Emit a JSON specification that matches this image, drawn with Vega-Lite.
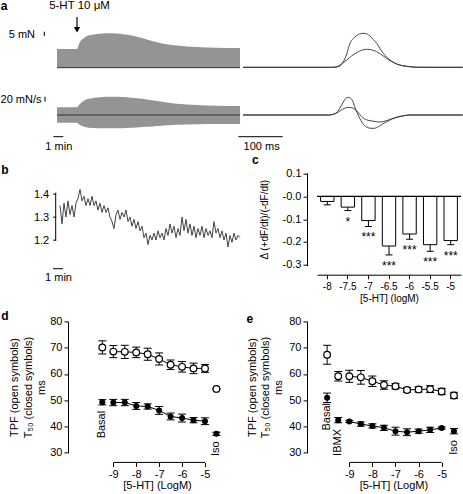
{
  "$schema": "https://vega.github.io/schema/vega-lite/v6.json",
  "padding": 0,
  "autosize": {"type": "pad"},
  "background": "white",
  "config": {
    "font": "Liberation Sans",
    "view": {"stroke": null},
    "axis": {"grid": false, "domainColor": "black", "tickColor": "black", "labelColor": "black", "titleColor": "black", "labelFontSize": 11, "titleFontSize": 11, "titleFontWeight": "normal", "tickSize": 4, "labelPadding": 2, "domainWidth": 1, "tickWidth": 1, "labelFont": "Liberation Sans", "titleFont": "Liberation Sans", "labelOverlap": false},
    "text": {"color": "black", "fontSize": 11}
  },
  "columns": 2,
  "align": "none",
  "bounds": "flush",
  "spacing": {"row": 55.7, "column": 0},
  "datasets": {
    "aenv": [
      {"trace": "F", "t": 0, "top": 101, "bot": 82.3},
      {"trace": "F", "t": 2.0, "top": 101, "bot": 82.3},
      {"trace": "F", "t": 2.2, "top": 106, "bot": 82.3},
      {"trace": "F", "t": 2.4, "top": 109.5, "bot": 82.3},
      {"trace": "F", "t": 2.7, "top": 112, "bot": 82.3},
      {"trace": "F", "t": 3.0, "top": 114, "bot": 82.3},
      {"trace": "F", "t": 3.5, "top": 115.3, "bot": 82.3},
      {"trace": "F", "t": 4.5, "top": 116.5, "bot": 82.3},
      {"trace": "F", "t": 5.5, "top": 116.7, "bot": 82.3},
      {"trace": "F", "t": 6.5, "top": 116, "bot": 82.3},
      {"trace": "F", "t": 7.5, "top": 114.5, "bot": 82.3},
      {"trace": "F", "t": 8.5, "top": 112, "bot": 82.3},
      {"trace": "F", "t": 9.5, "top": 109, "bot": 82.3},
      {"trace": "F", "t": 10.5, "top": 106.5, "bot": 82.3},
      {"trace": "F", "t": 11.5, "top": 105, "bot": 82.3},
      {"trace": "F", "t": 13, "top": 103.5, "bot": 82.3},
      {"trace": "F", "t": 15, "top": 102.5, "bot": 82.3},
      {"trace": "F", "t": 17, "top": 102, "bot": 82.3},
      {"trace": "F", "t": 18.3, "top": 102, "bot": 82.3},
      {"trace": "D", "t": 0, "top": 42.8, "bot": 27.3},
      {"trace": "D", "t": 2.0, "top": 42.8, "bot": 27.3},
      {"trace": "D", "t": 2.2, "top": 45, "bot": 25.5},
      {"trace": "D", "t": 2.5, "top": 48, "bot": 24},
      {"trace": "D", "t": 2.8, "top": 50, "bot": 23},
      {"trace": "D", "t": 3.2, "top": 51.3, "bot": 22.3},
      {"trace": "D", "t": 4, "top": 52.5, "bot": 21.8},
      {"trace": "D", "t": 5, "top": 53.3, "bot": 21.7},
      {"trace": "D", "t": 6, "top": 53.3, "bot": 21.7},
      {"trace": "D", "t": 7, "top": 52.8, "bot": 22},
      {"trace": "D", "t": 8, "top": 51.8, "bot": 22.5},
      {"trace": "D", "t": 9, "top": 50.5, "bot": 23.2},
      {"trace": "D", "t": 10, "top": 49, "bot": 24},
      {"trace": "D", "t": 11, "top": 47.5, "bot": 24.8},
      {"trace": "D", "t": 12, "top": 46.3, "bot": 25.3},
      {"trace": "D", "t": 14, "top": 45, "bot": 25.8},
      {"trace": "D", "t": 16, "top": 44.3, "bot": 26},
      {"trace": "D", "t": 18.3, "top": 44, "bot": 26}
    ],
    "atr": [
      {"s": "Fh", "t": 0, "v": 82.7}, {"s": "Fh", "t": 200, "v": 82.7}, {"s": "Fh", "t": 207.7, "v": 82.8}, {"s": "Fh", "t": 219, "v": 84}, {"s": "Fh", "t": 226.4, "v": 88.3}, {"s": "Fh", "t": 234, "v": 96}, {"s": "Fh", "t": 241.5, "v": 106.7}, {"s": "Fh", "t": 249, "v": 111.5}, {"s": "Fh", "t": 256.7, "v": 114.5}, {"s": "Fh", "t": 264, "v": 116.2}, {"s": "Fh", "t": 271.6, "v": 116.7}, {"s": "Fh", "t": 279, "v": 116.2}, {"s": "Fh", "t": 286.7, "v": 114}, {"s": "Fh", "t": 294, "v": 110.5}, {"s": "Fh", "t": 301.8, "v": 106.7}, {"s": "Fh", "t": 309, "v": 101.5}, {"s": "Fh", "t": 316.7, "v": 96.7}, {"s": "Fh", "t": 324, "v": 93}, {"s": "Fh", "t": 331.8, "v": 90}, {"s": "Fh", "t": 339, "v": 87.8}, {"s": "Fh", "t": 347, "v": 86}, {"s": "Fh", "t": 358, "v": 84.5}, {"s": "Fh", "t": 369.5, "v": 83.7}, {"s": "Fh", "t": 381, "v": 83.1}, {"s": "Fh", "t": 392, "v": 82.8}, {"s": "Fh", "t": 420, "v": 82.7}, {"s": "Fh", "t": 496, "v": 82.7},
      {"s": "Fl", "t": 0, "v": 82.7}, {"s": "Fl", "t": 200, "v": 82.7}, {"s": "Fl", "t": 207.7, "v": 82.8}, {"s": "Fl", "t": 219, "v": 85}, {"s": "Fl", "t": 226.4, "v": 87.5}, {"s": "Fl", "t": 234, "v": 90}, {"s": "Fl", "t": 245, "v": 94}, {"s": "Fl", "t": 256.7, "v": 97.3}, {"s": "Fl", "t": 268, "v": 99.8}, {"s": "Fl", "t": 279.2, "v": 100.7}, {"s": "Fl", "t": 290, "v": 100.2}, {"s": "Fl", "t": 301.8, "v": 98.3}, {"s": "Fl", "t": 316.7, "v": 94}, {"s": "Fl", "t": 331.8, "v": 89.3}, {"s": "Fl", "t": 347, "v": 86}, {"s": "Fl", "t": 358, "v": 84.5}, {"s": "Fl", "t": 369.5, "v": 83.7}, {"s": "Fl", "t": 381, "v": 83.1}, {"s": "Fl", "t": 392, "v": 82.8}, {"s": "Fl", "t": 420, "v": 82.7}, {"s": "Fl", "t": 496, "v": 82.7},
      {"s": "Dh", "t": 0, "v": 35}, {"s": "Dh", "t": 195, "v": 35}, {"s": "Dh", "t": 200, "v": 35.3}, {"s": "Dh", "t": 211.5, "v": 37.5}, {"s": "Dh", "t": 220, "v": 43}, {"s": "Dh", "t": 226.4, "v": 48}, {"s": "Dh", "t": 232, "v": 51.5}, {"s": "Dh", "t": 237.8, "v": 52.7}, {"s": "Dh", "t": 243, "v": 51.8}, {"s": "Dh", "t": 249, "v": 47.5}, {"s": "Dh", "t": 254, "v": 41}, {"s": "Dh", "t": 260, "v": 35}, {"s": "Dh", "t": 266, "v": 29.5}, {"s": "Dh", "t": 272, "v": 25.5}, {"s": "Dh", "t": 280, "v": 22.8}, {"s": "Dh", "t": 288, "v": 21.7}, {"s": "Dh", "t": 296, "v": 21.7}, {"s": "Dh", "t": 305.5, "v": 23.3}, {"s": "Dh", "t": 315, "v": 26}, {"s": "Dh", "t": 324.4, "v": 28.3}, {"s": "Dh", "t": 335, "v": 30.7}, {"s": "Dh", "t": 347, "v": 32.7}, {"s": "Dh", "t": 362, "v": 34.2}, {"s": "Dh", "t": 377, "v": 35}, {"s": "Dh", "t": 496, "v": 35},
      {"s": "Dl", "t": 0, "v": 35}, {"s": "Dl", "t": 195, "v": 35}, {"s": "Dl", "t": 200, "v": 35.3}, {"s": "Dl", "t": 211.5, "v": 37}, {"s": "Dl", "t": 220, "v": 39.5}, {"s": "Dl", "t": 228, "v": 41.5}, {"s": "Dl", "t": 237.8, "v": 42.7}, {"s": "Dl", "t": 246, "v": 42.2}, {"s": "Dl", "t": 252.8, "v": 40.7}, {"s": "Dl", "t": 260, "v": 37.5}, {"s": "Dl", "t": 268, "v": 33.3}, {"s": "Dl", "t": 277, "v": 30.5}, {"s": "Dl", "t": 286.7, "v": 29.3}, {"s": "Dl", "t": 298, "v": 28.5}, {"s": "Dl", "t": 309.3, "v": 28}, {"s": "Dl", "t": 318, "v": 28.6}, {"s": "Dl", "t": 328, "v": 30}, {"s": "Dl", "t": 338, "v": 31.5}, {"s": "Dl", "t": 347, "v": 32.7}, {"s": "Dl", "t": 362, "v": 34.2}, {"s": "Dl", "t": 377, "v": 35}, {"s": "Dl", "t": 496, "v": 35}
    ],
    "btr": [
      {"t": 0.0, "v": 1.35}, {"t": 0.2, "v": 1.27}, {"t": 0.4, "v": 1.36}, {"t": 0.6, "v": 1.30}, {"t": 0.8, "v": 1.37}, {"t": 1.0, "v": 1.31}, {"t": 1.2, "v": 1.35}, {"t": 1.4, "v": 1.30}, {"t": 1.6, "v": 1.36}, {"t": 1.8, "v": 1.38},
      {"t": 2.0, "v": 1.42}, {"t": 2.2, "v": 1.37}, {"t": 2.4, "v": 1.39}, {"t": 2.6, "v": 1.35}, {"t": 2.8, "v": 1.38}, {"t": 3.0, "v": 1.35}, {"t": 3.2, "v": 1.39}, {"t": 3.4, "v": 1.35}, {"t": 3.6, "v": 1.37}, {"t": 3.8, "v": 1.33},
      {"t": 4.0, "v": 1.36}, {"t": 4.2, "v": 1.32}, {"t": 4.4, "v": 1.35}, {"t": 4.6, "v": 1.32}, {"t": 4.8, "v": 1.34}, {"t": 5.0, "v": 1.30}, {"t": 5.2, "v": 1.28}, {"t": 5.4, "v": 1.25}, {"t": 5.6, "v": 1.31}, {"t": 5.8, "v": 1.33},
      {"t": 6.0, "v": 1.29}, {"t": 6.2, "v": 1.32}, {"t": 6.4, "v": 1.30}, {"t": 6.6, "v": 1.33}, {"t": 6.8, "v": 1.28}, {"t": 7.0, "v": 1.30}, {"t": 7.2, "v": 1.26}, {"t": 7.4, "v": 1.29}, {"t": 7.6, "v": 1.25}, {"t": 7.8, "v": 1.28},
      {"t": 8.0, "v": 1.24}, {"t": 8.2, "v": 1.26}, {"t": 8.4, "v": 1.21}, {"t": 8.6, "v": 1.23}, {"t": 8.8, "v": 1.18}, {"t": 9.0, "v": 1.22}, {"t": 9.2, "v": 1.20}, {"t": 9.4, "v": 1.23}, {"t": 9.6, "v": 1.20}, {"t": 9.8, "v": 1.24},
      {"t": 10.0, "v": 1.21}, {"t": 10.2, "v": 1.23}, {"t": 10.4, "v": 1.20}, {"t": 10.6, "v": 1.25}, {"t": 10.8, "v": 1.22}, {"t": 11.0, "v": 1.27}, {"t": 11.2, "v": 1.23}, {"t": 11.4, "v": 1.26}, {"t": 11.6, "v": 1.21}, {"t": 11.8, "v": 1.25},
      {"t": 12.0, "v": 1.22}, {"t": 12.2, "v": 1.30}, {"t": 12.4, "v": 1.24}, {"t": 12.6, "v": 1.29}, {"t": 12.8, "v": 1.23}, {"t": 13.0, "v": 1.27}, {"t": 13.2, "v": 1.22}, {"t": 13.4, "v": 1.26}, {"t": 13.6, "v": 1.21}, {"t": 13.8, "v": 1.25},
      {"t": 14.0, "v": 1.22}, {"t": 14.2, "v": 1.26}, {"t": 14.4, "v": 1.21}, {"t": 14.6, "v": 1.25}, {"t": 14.8, "v": 1.22}, {"t": 15.0, "v": 1.24}, {"t": 15.2, "v": 1.21}, {"t": 15.4, "v": 1.28}, {"t": 15.6, "v": 1.23}, {"t": 15.8, "v": 1.25},
      {"t": 16.0, "v": 1.21}, {"t": 16.2, "v": 1.24}, {"t": 16.4, "v": 1.20}, {"t": 16.6, "v": 1.23}, {"t": 16.8, "v": 1.17}, {"t": 17.0, "v": 1.22}, {"t": 17.2, "v": 1.19}, {"t": 17.4, "v": 1.23}, {"t": 17.6, "v": 1.20}, {"t": 17.8, "v": 1.22}, {"t": 18.0, "v": 1.21}
    ],
    "cbar": [
      {"conc": "-8", "value": -0.022, "lo": -0.037, "sig": ""},
      {"conc": "-7.5", "value": -0.047, "lo": -0.062, "sig": "*"},
      {"conc": "-7", "value": -0.106, "lo": -0.132, "sig": "***"},
      {"conc": "-6.5", "value": -0.218, "lo": -0.257, "sig": "***"},
      {"conc": "-6", "value": -0.165, "lo": -0.188, "sig": "***"},
      {"conc": "-5.5", "value": -0.212, "lo": -0.241, "sig": "***"},
      {"conc": "-5", "value": -0.194, "lo": -0.212, "sig": "***"}
    ],
    "dpts": [
      {"series": "open", "cond": "Basal", "x": -9.48, "mean": 70.1, "lo": 67.6, "hi": 72.6},
      {"series": "open", "cond": "dose", "x": -9, "mean": 68.5, "lo": 66.2, "hi": 70.8},
      {"series": "open", "cond": "dose", "x": -8.5, "mean": 68.4, "lo": 65.9, "hi": 70.9},
      {"series": "open", "cond": "dose", "x": -8, "mean": 68.2, "lo": 66.2, "hi": 70.2},
      {"series": "open", "cond": "dose", "x": -7.5, "mean": 67.5, "lo": 65.2, "hi": 69.8},
      {"series": "open", "cond": "dose", "x": -7, "mean": 65.7, "lo": 63.4, "hi": 68.0},
      {"series": "open", "cond": "dose", "x": -6.5, "mean": 63.5, "lo": 61.7, "hi": 65.3},
      {"series": "open", "cond": "dose", "x": -6, "mean": 62.7, "lo": 60.7, "hi": 64.7},
      {"series": "open", "cond": "dose", "x": -5.5, "mean": 62.1, "lo": 60.1, "hi": 64.1},
      {"series": "open", "cond": "dose", "x": -5, "mean": 62.1, "lo": 60.6, "hi": 63.6},
      {"series": "open", "cond": "Iso", "x": -4.5, "mean": 54.3, "lo": 54.3, "hi": 54.3},
      {"series": "closed", "cond": "Basal", "x": -9.48, "mean": 49.2, "lo": 48.2, "hi": 50.2},
      {"series": "closed", "cond": "dose", "x": -9, "mean": 49.1, "lo": 47.9, "hi": 50.3},
      {"series": "closed", "cond": "dose", "x": -8.5, "mean": 49.1, "lo": 47.9, "hi": 50.3},
      {"series": "closed", "cond": "dose", "x": -8, "mean": 47.8, "lo": 46.5, "hi": 49.1},
      {"series": "closed", "cond": "dose", "x": -7.5, "mean": 47.6, "lo": 46.6, "hi": 48.6},
      {"series": "closed", "cond": "dose", "x": -7, "mean": 46.1, "lo": 44.6, "hi": 47.6},
      {"series": "closed", "cond": "dose", "x": -6.5, "mean": 43.8, "lo": 42.5, "hi": 45.1},
      {"series": "closed", "cond": "dose", "x": -6, "mean": 43.2, "lo": 41.7, "hi": 44.7},
      {"series": "closed", "cond": "dose", "x": -5.5, "mean": 42.4, "lo": 41.4, "hi": 43.4},
      {"series": "closed", "cond": "dose", "x": -5, "mean": 42.0, "lo": 40.7, "hi": 43.3},
      {"series": "closed", "cond": "Iso", "x": -4.5, "mean": 37.2, "lo": 36.6, "hi": 37.8}
    ],
    "epts": [
      {"series": "open", "cond": "Basal", "x": -9.96, "mean": 67.3, "lo": 63.7, "hi": 70.9},
      {"series": "open", "cond": "IBMX", "x": -9.48, "mean": 59.1, "lo": 57.3, "hi": 60.9},
      {"series": "open", "cond": "dose", "x": -9, "mean": 59.1, "lo": 56.8, "hi": 61.4},
      {"series": "open", "cond": "dose", "x": -8.5, "mean": 58.7, "lo": 56.1, "hi": 61.3},
      {"series": "open", "cond": "dose", "x": -8, "mean": 57.2, "lo": 55.2, "hi": 59.2},
      {"series": "open", "cond": "dose", "x": -7.5, "mean": 55.8, "lo": 54.2, "hi": 57.4},
      {"series": "open", "cond": "dose", "x": -7, "mean": 55.3, "lo": 54.3, "hi": 56.3},
      {"series": "open", "cond": "dose", "x": -6.5, "mean": 53.9, "lo": 53.0, "hi": 54.8},
      {"series": "open", "cond": "dose", "x": -6, "mean": 54.1, "lo": 53.1, "hi": 55.1},
      {"series": "open", "cond": "dose", "x": -5.5, "mean": 54.2, "lo": 52.9, "hi": 55.5},
      {"series": "open", "cond": "dose", "x": -5, "mean": 53.3, "lo": 52.1, "hi": 54.5},
      {"series": "open", "cond": "Iso", "x": -4.47, "mean": 51.8, "lo": 50.6, "hi": 53.0},
      {"series": "closed", "cond": "Basal", "x": -9.96, "mean": 50.9, "lo": 49.1, "hi": 52.7},
      {"series": "closed", "cond": "IBMX", "x": -9.48, "mean": 42.4, "lo": 41.4, "hi": 43.4},
      {"series": "closed", "cond": "dose", "x": -9, "mean": 41.9, "lo": 41.5, "hi": 42.3},
      {"series": "closed", "cond": "dose", "x": -8.5, "mean": 40.9, "lo": 40.1, "hi": 41.7},
      {"series": "closed", "cond": "dose", "x": -8, "mean": 40.2, "lo": 39.4, "hi": 41.0},
      {"series": "closed", "cond": "dose", "x": -7.5, "mean": 39.5, "lo": 38.5, "hi": 40.5},
      {"series": "closed", "cond": "dose", "x": -7, "mean": 38.2, "lo": 36.7, "hi": 39.7},
      {"series": "closed", "cond": "dose", "x": -6.5, "mean": 37.8, "lo": 36.5, "hi": 39.1},
      {"series": "closed", "cond": "dose", "x": -6, "mean": 38.2, "lo": 37.4, "hi": 39.0},
      {"series": "closed", "cond": "dose", "x": -5.5, "mean": 38.7, "lo": 37.7, "hi": 39.7},
      {"series": "closed", "cond": "dose", "x": -5, "mean": 39.4, "lo": 39.0, "hi": 39.8},
      {"series": "closed", "cond": "Iso", "x": -4.47, "mean": 38.2, "lo": 37.2, "hi": 39.2}
    ]
  },
  "concat": [
    {
      "width": 175, "height": 96.3,
      "layer": [
        {"data": {"name": "aenv"}, "mark": {"type": "area", "color": "#949494", "interpolate": "monotone", "opacity": 1},
         "encoding": {"x": {"field": "t", "type": "quantitative", "scale": {"domain": [1.1, 18.6], "nice": false, "zero": false}, "axis": null},
                      "y": {"field": "top", "type": "quantitative", "scale": {"domain": [33.7, 130], "nice": false, "zero": false}, "axis": null},
                      "y2": {"field": "bot"}, "detail": {"field": "trace"}}},
        {"data": {"values": [{}]}, "mark": {"type": "rule", "color": "#333", "strokeWidth": 1}, "encoding": {"x": {"datum": 0}, "x2": {"datum": 18.3}, "y": {"datum": 82.3}}},
        {"data": {"values": [{}]}, "mark": {"type": "rule", "color": "#333", "strokeWidth": 1.2}, "encoding": {"x": {"datum": 0}, "x2": {"datum": 18.3}, "y": {"datum": 35}}},
        {"data": {"values": [{}]}, "mark": {"type": "rule", "color": "black", "strokeWidth": 1.2}, "encoding": {"x": {"datum": 2.0}, "y": {"datum": 133}, "y2": {"datum": 122}}},
        {"data": {"values": [{}]}, "mark": {"type": "point", "shape": "triangle-down", "filled": true, "color": "black", "size": 40, "opacity": 1}, "encoding": {"x": {"datum": 2.0}, "y": {"datum": 120.3}}},
        {"data": {"values": [{}]}, "mark": {"type": "text", "text": "5-HT 10 μM", "fontSize": 11.5}, "encoding": {"x": {"datum": 2.25}, "y": {"datum": 144}}},
        {"data": {"values": [{}]}, "mark": {"type": "text", "text": "a", "fontSize": 12, "fontWeight": "bold"}, "encoding": {"x": {"datum": -5.3}, "y": {"datum": 143.8}}},
        {"data": {"values": [{}]}, "mark": {"type": "text", "text": "5 mN", "fontSize": 11, "align": "right"}, "encoding": {"x": {"datum": -2.2}, "y": {"datum": 115}}},
        {"data": {"values": [{}]}, "mark": {"type": "rule", "color": "black"}, "encoding": {"x": {"datum": -1.27}, "y": {"datum": 118.3}, "y2": {"datum": 114}}},
        {"data": {"values": [{}]}, "mark": {"type": "text", "text": "20 mN/s", "fontSize": 11, "align": "right"}, "encoding": {"x": {"datum": -1.55}, "y": {"datum": 50}}},
        {"data": {"values": [{}]}, "mark": {"type": "rule", "color": "black"}, "encoding": {"x": {"datum": -1.2}, "y": {"datum": 53.3}, "y2": {"datum": 48.3}}},
        {"data": {"values": [{}]}, "mark": {"type": "rule", "color": "black"}, "encoding": {"x": {"datum": -0.37}, "x2": {"datum": 0.63}, "y": {"datum": 13.3}}},
        {"data": {"values": [{}]}, "mark": {"type": "text", "text": "1 min", "fontSize": 11}, "encoding": {"x": {"datum": 0.18}, "y": {"datum": 3.3}}}
      ]
    },
    {
      "width": 146, "height": 96.3,
      "layer": [
        {"data": {"name": "atr"}, "mark": {"type": "line", "color": "#333", "strokeWidth": 0.9, "interpolate": "monotone"},
         "encoding": {"x": {"field": "t", "type": "quantitative", "scale": {"domain": [167.0, 496.6], "nice": false, "zero": false}, "axis": null},
                      "y": {"field": "v", "type": "quantitative", "scale": {"domain": [33.7, 130], "nice": false, "zero": false}, "axis": null},
                      "detail": {"field": "s"}}},
        {"data": {"values": [{}]}, "mark": {"type": "rule", "color": "black"}, "encoding": {"x": {"datum": -10.6}, "x2": {"datum": 89.6}, "y": {"datum": 13.3}}},
        {"data": {"values": [{}]}, "mark": {"type": "text", "text": "100 ms", "fontSize": 11}, "encoding": {"x": {"datum": 42}, "y": {"datum": 3.3}}}
      ]
    },
    {
      "width": 249, "height": 93,
      "layer": [
        {"data": {"name": "btr"}, "mark": {"type": "line", "color": "#444", "strokeWidth": 1},
         "encoding": {"x": {"field": "t", "type": "quantitative", "scale": {"domain": [0.8, 25.7], "nice": false, "zero": false}, "axis": null},
                      "y": {"field": "v", "type": "quantitative", "scale": {"domain": [1.0883, 1.4926], "nice": false, "zero": false},
                            "axis": {"values": [1.2, 1.3, 1.4], "tickCount": 20, "format": ".1f", "domain": false, "offset": 12.3, "title": null, "tickSize": 3, "labelPadding": 4, "labelOverlap": false}}}},
        {"data": {"values": [{}]}, "mark": {"type": "rule", "color": "black"}, "encoding": {"x": {"datum": -0.43}, "y": {"datum": 1.1975}, "y2": {"datum": 1.4057}}},
        {"data": {"values": [{}]}, "mark": {"type": "rule", "color": "black"}, "encoding": {"x": {"datum": -0.7}, "x2": {"datum": 0.3}, "y": {"datum": 1.0752}}},
        {"data": {"values": [{}]}, "mark": {"type": "text", "text": "1 min", "fontSize": 11}, "encoding": {"x": {"datum": -0.15}, "y": {"datum": 1.036}}},
        {"data": {"values": [{}]}, "mark": {"type": "text", "text": "b", "fontSize": 12, "fontWeight": "bold"}, "encoding": {"x": {"datum": -5.5}, "y": {"datum": 1.5057}}}
      ]
    },
    {
      "width": 144, "height": 93,
      "title": {"text": "c", "anchor": "start", "frame": "group", "fontSize": 12, "fontWeight": "bold", "dx": -65, "offset": -11, "baseline": "bottom", "font": "Liberation Sans", "color": "black"},
      "layer": [
        {"data": {"name": "cbar"}, "mark": {"type": "bar", "fill": "white", "stroke": "black", "strokeWidth": 1},
         "encoding": {"x": {"field": "conc", "type": "nominal", "sort": null, "scale": {"paddingInner": 0.35, "paddingOuter": 0.175},
                            "axis": {"labelAngle": 0, "labelFontSize": 10, "title": "[5-HT] (logM)", "titleFontSize": 10, "offset": 9, "labelPadding": 3, "titlePadding": 2, "labelOverlap": false}},
                      "y": {"field": "value", "type": "quantitative", "scale": {"domain": [-0.3044, 0.1044], "nice": false, "zero": false},
                            "axis": {"values": [0.1, 0, -0.1, -0.2, -0.3], "tickCount": 20, "labelExpr": "datum.value === 0 ? '-0.0' : (datum.value < 0 ? '-' + format(-datum.value, '.1f') : format(datum.value, '.1f'))", "offset": 10, "title": "Δ (+dF/dt)/(-dF/dt)", "titleFontSize": 10, "titlePadding": 13, "labelOverlap": false}},
                      "y2": {"datum": 0}}},
        {"data": {"name": "cbar"}, "mark": {"type": "rule", "color": "black"},
         "encoding": {"x": {"field": "conc", "type": "nominal", "sort": null}, "y": {"field": "value", "type": "quantitative"}, "y2": {"field": "lo"}}},
        {"data": {"name": "cbar"}, "mark": {"type": "tick", "color": "black", "size": 7, "thickness": 1, "opacity": 1, "orient": "horizontal"},
         "encoding": {"x": {"field": "conc", "type": "nominal", "sort": null}, "y": {"field": "lo", "type": "quantitative"}}},
        {"data": {"name": "cbar"}, "mark": {"type": "text", "fontSize": 12, "baseline": "middle", "dy": 11},
         "encoding": {"x": {"field": "conc", "type": "nominal", "sort": null}, "y": {"field": "lo", "type": "quantitative"}, "text": {"field": "sig"}}},
        {"data": {"values": [{}]}, "mark": {"type": "rule", "color": "black", "strokeWidth": 1.2}, "encoding": {"y": {"datum": 0}}}
      ]
    },
    {
      "width": 239, "height": 131.3,
      "layer": [
        {"data": {"name": "dpts"}, "transform": [{"filter": "datum.cond === 'dose'"}], "mark": {"type": "line", "color": "black", "strokeWidth": 1},
         "encoding": {"x": {"field": "x", "type": "quantitative", "scale": {"domain": [-10.978, -0.546], "nice": false, "zero": false},
                            "axis": {"values": [-9, -8, -7, -6, -5], "tickCount": 20, "labelExpr": "'-' + abs(datum.value)", "domain": false, "offset": 9.7, "title": null, "labelPadding": 2, "labelOverlap": false}},
                      "y": {"field": "mean", "type": "quantitative", "scale": {"domain": [30, 80], "nice": false, "zero": false},
                            "axis": {"values": [30, 40, 50, 60, 70, 80], "tickCount": 20, "title": ["TPF (open symbols)", "T₅₀ (closed symbols)", "ms"], "titleLineHeight": 13.5, "titlePadding": 3, "labelOverlap": false}},
                      "detail": {"field": "series"}}},
        {"data": {"name": "dpts"}, "mark": {"type": "rule", "color": "black"},
         "encoding": {"x": {"field": "x", "type": "quantitative"}, "y": {"field": "lo", "type": "quantitative"}, "y2": {"field": "hi"}}},
        {"data": {"name": "dpts"}, "mark": {"type": "tick", "color": "black", "size": 8, "thickness": 1, "opacity": 1, "orient": "horizontal"},
         "encoding": {"x": {"field": "x", "type": "quantitative"}, "y": {"field": "lo", "type": "quantitative"}}},
        {"data": {"name": "dpts"}, "mark": {"type": "tick", "color": "black", "size": 8, "thickness": 1, "opacity": 1, "orient": "horizontal"},
         "encoding": {"x": {"field": "x", "type": "quantitative"}, "y": {"field": "hi", "type": "quantitative"}}},
        {"data": {"name": "dpts"}, "transform": [{"filter": "datum.series === 'open'"}], "mark": {"type": "circle", "fill": "white", "stroke": "black", "strokeWidth": 1.2, "size": 45, "opacity": 1},
         "encoding": {"x": {"field": "x", "type": "quantitative"}, "y": {"field": "mean", "type": "quantitative"}}},
        {"data": {"name": "dpts"}, "transform": [{"filter": "datum.series === 'closed'"}], "mark": {"type": "circle", "color": "black", "size": 36, "opacity": 1},
         "encoding": {"x": {"field": "x", "type": "quantitative"}, "y": {"field": "mean", "type": "quantitative"}}},
        {"data": {"values": [{}]}, "mark": {"type": "rule", "color": "black"}, "encoding": {"x": {"datum": -9}, "x2": {"datum": -5}, "y": {"datum": 26.3}}},
        {"data": {"values": [{}]}, "mark": {"type": "text", "text": "[5-HT]  (LogM)", "fontSize": 11}, "encoding": {"x": {"datum": -7.07}, "y": {"datum": 17.3}}},
        {"data": {"values": [{}]}, "mark": {"type": "text", "text": "Basal", "fontSize": 11, "angle": 270}, "encoding": {"x": {"datum": -9.48}, "y": {"datum": 40.7}}},
        {"data": {"values": [{}]}, "mark": {"type": "text", "text": "Iso", "fontSize": 11, "angle": 270}, "encoding": {"x": {"datum": -4.5}, "y": {"datum": 31.5}}},
        {"data": {"values": [{}]}, "mark": {"type": "text", "text": "d", "fontSize": 12, "fontWeight": "bold"}, "encoding": {"x": {"datum": -13.73}, "y": {"datum": 82.2}}}
      ]
    },
    {
      "width": 146, "height": 131.3,
      "layer": [
        {"data": {"name": "epts"}, "transform": [{"filter": "datum.cond === 'dose'"}], "mark": {"type": "line", "color": "black", "strokeWidth": 1},
         "encoding": {"x": {"field": "x", "type": "quantitative", "scale": {"domain": [-10.398, -4.078], "nice": false, "zero": false},
                            "axis": {"values": [-9, -8, -7, -6, -5], "tickCount": 20, "labelExpr": "'-' + abs(datum.value)", "domain": false, "offset": 9.7, "title": null, "labelPadding": 2, "labelOverlap": false}},
                      "y": {"field": "mean", "type": "quantitative", "scale": {"domain": [30, 80], "nice": false, "zero": false},
                            "axis": {"values": [30, 40, 50, 60, 70, 80], "tickCount": 20, "offset": 10, "title": ["TPF (open symbols)", "T₅₀ (closed symbols)", "ms"], "titleLineHeight": 13, "titlePadding": 5, "labelOverlap": false}},
                      "detail": {"field": "series"}}},
        {"data": {"name": "epts"}, "mark": {"type": "rule", "color": "black"},
         "encoding": {"x": {"field": "x", "type": "quantitative"}, "y": {"field": "lo", "type": "quantitative"}, "y2": {"field": "hi"}}},
        {"data": {"name": "epts"}, "mark": {"type": "tick", "color": "black", "size": 8, "thickness": 1, "opacity": 1, "orient": "horizontal"},
         "encoding": {"x": {"field": "x", "type": "quantitative"}, "y": {"field": "lo", "type": "quantitative"}}},
        {"data": {"name": "epts"}, "mark": {"type": "tick", "color": "black", "size": 8, "thickness": 1, "opacity": 1, "orient": "horizontal"},
         "encoding": {"x": {"field": "x", "type": "quantitative"}, "y": {"field": "hi", "type": "quantitative"}}},
        {"data": {"name": "epts"}, "transform": [{"filter": "datum.series === 'open'"}], "mark": {"type": "circle", "fill": "white", "stroke": "black", "strokeWidth": 1.2, "size": 45, "opacity": 1},
         "encoding": {"x": {"field": "x", "type": "quantitative"}, "y": {"field": "mean", "type": "quantitative"}}},
        {"data": {"name": "epts"}, "transform": [{"filter": "datum.series === 'closed'"}], "mark": {"type": "circle", "color": "black", "size": 36, "opacity": 1},
         "encoding": {"x": {"field": "x", "type": "quantitative"}, "y": {"field": "mean", "type": "quantitative"}}},
        {"data": {"values": [{}]}, "mark": {"type": "rule", "color": "black"}, "encoding": {"x": {"datum": -9}, "x2": {"datum": -5}, "y": {"datum": 26.3}}},
        {"data": {"values": [{}]}, "mark": {"type": "text", "text": "[5-HT]  (LogM)", "fontSize": 11}, "encoding": {"x": {"datum": -7.07}, "y": {"datum": 17.3}}},
        {"data": {"values": [{}]}, "mark": {"type": "text", "text": "Basal", "fontSize": 11, "angle": 270}, "encoding": {"x": {"datum": -9.96}, "y": {"datum": 43.7}}},
        {"data": {"values": [{}]}, "mark": {"type": "text", "text": "IBMX", "fontSize": 11, "angle": 270}, "encoding": {"x": {"datum": -9.48}, "y": {"datum": 33.9}}},
        {"data": {"values": [{}]}, "mark": {"type": "text", "text": "Iso", "fontSize": 11, "angle": 270}, "encoding": {"x": {"datum": -4.47}, "y": {"datum": 32}}},
        {"data": {"values": [{}]}, "mark": {"type": "text", "text": "e", "fontSize": 12, "fontWeight": "bold"}, "encoding": {"x": {"datum": -13.3}, "y": {"datum": 81}}}
      ]
    }
  ]
}
